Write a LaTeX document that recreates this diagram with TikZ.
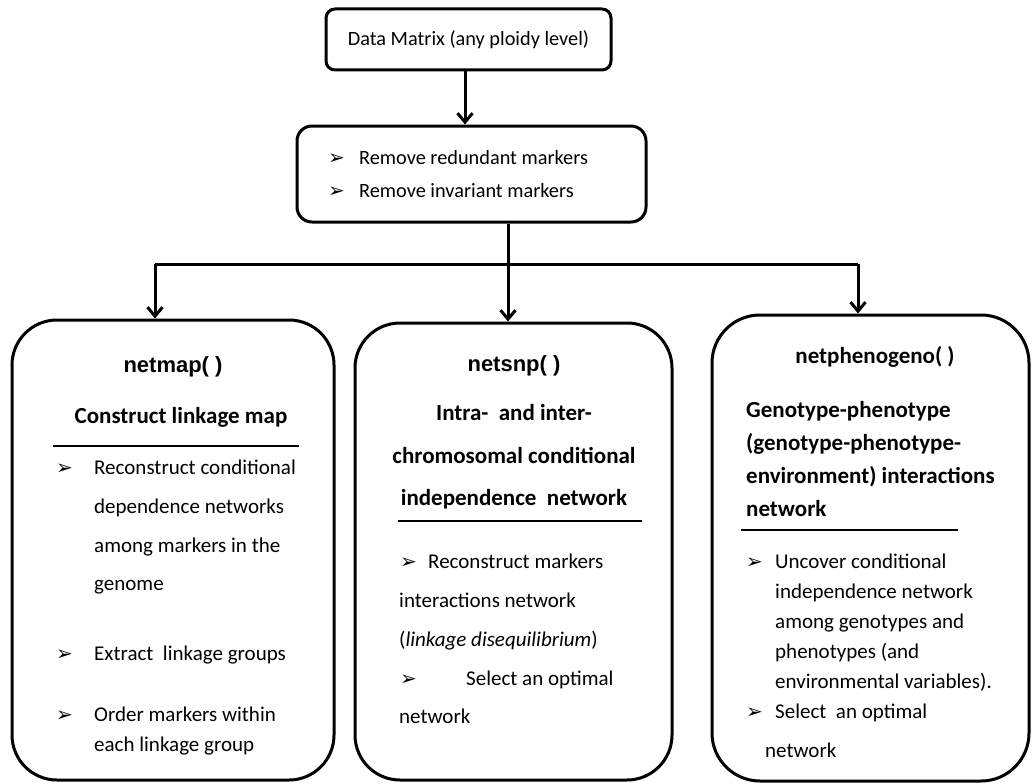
\documentclass[tikz,border=0pt]{standalone}
\usepackage{fontspec}
\setmainfont{Carlito}
\newfontfamily\arialf{Liberation Sans}
\newfontfamily\dejavu{DejaVu Sans}
\usetikzlibrary{arrows.meta}
\newcommand{\blt}{{\dejavu\fontsize{20}{20}\selectfont ➢}}
\begin{document}
\begin{tikzpicture}[x=1pt,y=-1pt,
  box/.style={draw, line width=3pt, rounded corners=#1, inner sep=0pt},
  arr/.style={line width=3pt, -{Straight Barb[length=9pt,width=15pt,line width=3pt]}},
  conn/.style={line width=3pt},
  body/.style={anchor=base west, inner sep=0pt, font=\fontsize{21}{25}\selectfont},
  small/.style={anchor=base west, inner sep=0pt, font=\fontsize{20.3}{24}\selectfont},
  hd/.style={anchor=base west, inner sep=0pt, font=\fontsize{23}{28}\selectfont\bfseries},
  hdc/.style={anchor=base, inner sep=0pt, font=\fontsize{23}{28}\selectfont\bfseries},
  fn/.style={anchor=base, inner sep=0pt, font=\arialf\fontsize{22}{26}\selectfont\bfseries},
  bl/.style={anchor=base west, inner sep=0pt},
  rule/.style={line width=1.4pt}]
\useasboundingbox (0,0) rectangle (1033,784);

% top boxes
\node[box=9pt, minimum width=285pt, minimum height=61pt, font=\fontsize{20.3}{24}\selectfont] (t) at (468.5,39.5) {Data Matrix (any ploidy level)};
\node[box=15pt, minimum width=349pt, minimum height=96pt] (s) at (471.5,174) {};
\node[bl] (sb1) at (328,164) {\blt};
\node[small] (s1) at (359,164) {Remove redundant markers};
\node[bl] (sb2) at (328,197) {\blt};
\node[small] (s2) at (359,197) {Remove invariant markers};

% lower boxes
\node[box=45pt, minimum width=322pt, minimum height=460pt] (m1) at (173,550) {};
\node[box=45pt, minimum width=317pt, minimum height=457pt] (m2) at (513.5,551.5) {};
\node[box=48pt, minimum width=317pt, minimum height=466pt] (m3) at (870.5,548) {};

% connectors
\coordinate (ax) at (465,0);
\coordinate (jl) at (155,264);
\coordinate (jm) at (508,264);
\coordinate (jr) at (858,264);
\draw[arr] (t.south -| ax) -- (s.north -| ax);
\draw[conn] (s.south -| jm) -- (jm);
\draw[conn] (jl) -- (jr);
\draw[arr] (jl) -- (m1.north -| jl);
\draw[arr] (jm) -- (m2.north -| jm);
\draw[arr] (jr) -- (m3.north -| jr);

% box 1
\node[fn] (a0) at (173,372) {netmap( )};
\node[hdc] (a1) at (181,423) {Construct linkage map};
\draw[rule] (53,446) -- (299,446);
\node[bl] (ab1) at (56,474) {\blt};
\node[body] (a2) at (94,474) {Reconstruct conditional};
\node[body] (a3) at (94,513) {dependence networks};
\node[body] (a4) at (94,552) {among markers in the};
\node[body] (a5) at (94,590) {genome};
\node[bl] (ab2) at (56,660) {\blt};
\node[body] (a6) at (94,660) {Extract\ \ linkage groups};
\node[bl] (ab3) at (56,721) {\blt};
\node[body] (a7) at (94,721) {Order markers within};
\node[body] (a8) at (94,751) {each linkage group};

% box 2
\node[fn] (b0) at (514,371) {netsnp( )};
\node[hdc] (b1) at (514,420) {Intra-\ \ and inter-};
\node[hdc] (b2) at (514,463) {chromosomal conditional};
\node[hdc] (b3) at (514,505) {independence\ \ network};
\draw[rule] (398,521) -- (642,521);
\node[bl] (bb1) at (400,568) {\blt};
\node[body] (b4) at (428,568) {Reconstruct markers};
\node[body] (b5) at (399,607) {interactions network};
\node[body] (b6) at (399,646) {(\textit{linkage disequilibrium})};
\node[bl] (bb2) at (400,685) {\blt};
\node[body] (b7) at (466,685) {Select an optimal};
\node[body] (b8) at (399,723) {network};

% box 3
\node[hdc] (c0) at (875,363) {netphenogeno( )};
\node[hd] (c1) at (746,417) {Genotype-phenotype};
\node[hd] (c2) at (746,450) {(genotype-phenotype-};
\node[hd] (c3) at (746,483) {environment) interactions};
\node[hd] (c4) at (746,516) {network};
\draw[rule] (741,530) -- (958,530);
\node[bl] (cb1) at (746,568) {\blt};
\node[body] (c5) at (775,568) {Uncover conditional};
\node[body] (c6) at (775,598) {independence network};
\node[body] (c7) at (775,628) {among genotypes and};
\node[body] (c8) at (775,658) {phenotypes (and};
\node[body] (c9) at (775,688) {environmental variables).};
\node[bl] (cb2) at (746,718) {\blt};
\node[body] (c10) at (775,718) {Select\ \ an optimal};
\node[body] (c11) at (765,757) {network};
\end{tikzpicture}
\end{document}
